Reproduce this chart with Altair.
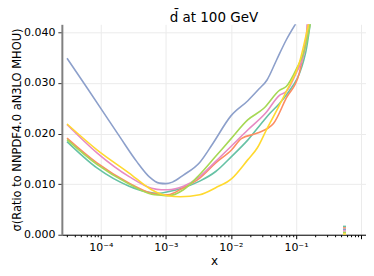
import altair as alt
import pandas as pd

# ---- data (log10 x, sigma) ----
series_names = ["set 1", "set 2", "set 3", "set 4", "set 5", "set 6"]
colors = ["#66c2a5", "#fc8d62", "#8da0cb", "#e78ac3", "#a6d854", "#ffd92f"]

teal_logx = [-4.52, -4.06, -3.565, -3.3, -3.1, -2.97, -2.73, -2.48, -2.234, -1.988, -1.742, -1.494, -1.40, -1.25, -1.15, -0.853, -0.78]
teal_val = [0.0184, 0.0132, 0.0096, 0.0085, 0.0082, 0.0085, 0.0093, 0.0106, 0.0125, 0.0155, 0.0187, 0.0226, 0.0240, 0.0260, 0.0276, 0.0359, 0.0418]

orange_logx = [-4.52, -4.06, -3.565, -3.22, -3.07, -2.97, -2.73, -2.48, -2.234, -1.988, -1.84, -1.593, -1.346, -1.15, -0.95, -0.805]
orange_val = [0.0191, 0.0142, 0.0102, 0.0082, 0.0079, 0.0079, 0.0093, 0.0112, 0.0142, 0.0168, 0.0190, 0.0201, 0.0220, 0.0270, 0.0319, 0.0418]

blue_logx = [-4.52, -4.2, -3.96, -3.7, -3.45, -3.25, -3.1, -3.0, -2.9, -2.73, -2.48, -2.28, -2.0, -1.74, -1.57, -1.445, -1.30, -1.15, -1.0]
blue_val = [0.0349, 0.0288, 0.0242, 0.0192, 0.0145, 0.0114, 0.0102, 0.0101, 0.0104, 0.0118, 0.0143, 0.0180, 0.0235, 0.0265, 0.0288, 0.0306, 0.0345, 0.0385, 0.0418]

pink_logx = [-4.52, -4.06, -3.565, -3.22, -3.07, -2.97, -2.73, -2.48, -2.234, -1.988, -1.742, -1.47, -1.25, -1.15, -1.0, -0.853, -0.828]
pink_val = [0.0218, 0.0162, 0.0115, 0.0092, 0.0089, 0.0089, 0.0096, 0.0115, 0.0145, 0.0176, 0.0207, 0.0240, 0.0276, 0.0283, 0.0319, 0.0372, 0.0418]

green_logx = [-4.52, -4.06, -3.565, -3.22, -3.07, -2.97, -2.73, -2.48, -2.234, -2.01, -1.742, -1.494, -1.25, -1.15, -1.0, -0.853, -0.78]
green_val = [0.0188, 0.0139, 0.0100, 0.0080, 0.0078, 0.0077, 0.0089, 0.0119, 0.0155, 0.0188, 0.0227, 0.0250, 0.0286, 0.0293, 0.0326, 0.0372, 0.0418]

yellow_logx = [-4.52, -4.06, -3.565, -3.22, -3.07, -2.97, -2.777, -2.48, -2.234, -1.988, -1.742, -1.593, -1.445, -1.30, -1.15, -0.95, -0.805]
yellow_val = [0.0219, 0.0168, 0.0122, 0.0089, 0.0080, 0.0077, 0.0075, 0.0079, 0.0093, 0.0111, 0.0148, 0.0172, 0.0210, 0.0245, 0.0283, 0.0339, 0.0418]

# small stacked marker near x ~ 0.55
marker_x = 0.557
marker_heights = [0.0003, 0.0003, 0.0003, 0.0003, 0.0003, 0.0003]

all_logx = [teal_logx, orange_logx, blue_logx, pink_logx, green_logx, yellow_logx]
all_val = [teal_val, orange_val, blue_val, pink_val, green_val, yellow_val]

rows = []
for name, lx, vals in zip(series_names, all_logx, all_val):
    for i, (a, b) in enumerate(zip(lx, vals)):
        rows.append({"series": name, "x": 10 ** a, "sigma": b, "i": i})
df = pd.DataFrame(rows)

bars = pd.DataFrame({
    "series": series_names,
    "x": [marker_x] * len(series_names),
    "h": marker_heights,
    "o": list(range(len(series_names), 0, -1)),
})

major_test = "abs(log(datum.value)/LN10 - round(log(datum.value)/LN10)) < 0.001"
x_ticks = []
for e in range(-5, 1):
    for m in range(1, 10):
        v = m * 10 ** e
        if 3e-5 <= v <= 1.0:
            x_ticks.append(v)

label_expr = ("abs(log(datum.value)/LN10 + 4) < 0.001 ? '10⁻⁴' : "
              "abs(log(datum.value)/LN10 + 3) < 0.001 ? '10⁻³' : "
              "abs(log(datum.value)/LN10 + 2) < 0.001 ? '10⁻²' : "
              "abs(log(datum.value)/LN10 + 1) < 0.001 ? '10⁻¹' : ''")

xscale = alt.Scale(type="log", domain=[3e-5, 1.0], nice=False)
yscale = alt.Scale(domain=[0, 0.0416], nice=False, zero=True)
cscale = alt.Scale(domain=series_names, range=colors)

xaxis = alt.Axis(
    values=x_ticks, labelExpr=label_expr, title="x",
    tickSize={"condition": {"test": major_test, "value": 4}, "value": 2},
    gridOpacity={"condition": {"test": major_test, "value": 1}, "value": 0},
    gridColor="#ebebeb", domainColor="#000000", tickColor="#000000",
    labelFontSize=11, titleFontSize=12, labelColor="#000000",
    labelFont="DejaVu Sans", titleFont="DejaVu Sans", titleFontWeight="normal",
    titleColor="#000000", labelPadding=3, titlePadding=3, labelFlush=False,
)
yaxis = alt.Axis(
    values=[0, 0.005, 0.01, 0.015, 0.02, 0.025, 0.03, 0.035, 0.04], format=".3f",
    title="σ(Ratio to NNPDF4.0 aN3LO MHOU)", gridColor="#ebebeb",
    domainColor="#808080", domainWidth=2, tickColor="#333333", tickSize=4,
    labelFontSize=11, titleFontSize=11.5, labelColor="#000000",
    labelFont="DejaVu Sans", titleFont="DejaVu Sans", titleFontWeight="normal",
    titleColor="#000000", labelPadding=3, titlePadding=1,
)

lines = alt.Chart(df).mark_line(strokeWidth=1.6, interpolate="monotone", clip=True).encode(
    x=alt.X("x:Q", scale=xscale, axis=xaxis),
    y=alt.Y("sigma:Q", scale=yscale, axis=yaxis),
    color=alt.Color("series:N", scale=cscale, legend=None),
    order="i:Q",
)

marker = alt.Chart(bars).mark_bar(size=3).encode(
    x=alt.X("x:Q", scale=xscale),
    y=alt.Y("h:Q", stack="zero", scale=yscale),
    color=alt.Color("series:N", scale=cscale, legend=None),
    order=alt.Order("o:Q"),
)

chart = alt.layer(lines, marker).properties(
    width=305, height=211,
    title=alt.Title("d̄ at 100 GeV", fontSize=13.5, font="DejaVu Sans", fontWeight="normal",
                    color="#000000", anchor="middle", offset=0),
    autosize=alt.AutoSizeParams(type="none"),
    padding={"left": 54, "top": 16, "right": 0, "bottom": 33},
).configure_view(stroke=None)

chart.save("out.html", embed_options={"renderer": "svg", "actions": False})
